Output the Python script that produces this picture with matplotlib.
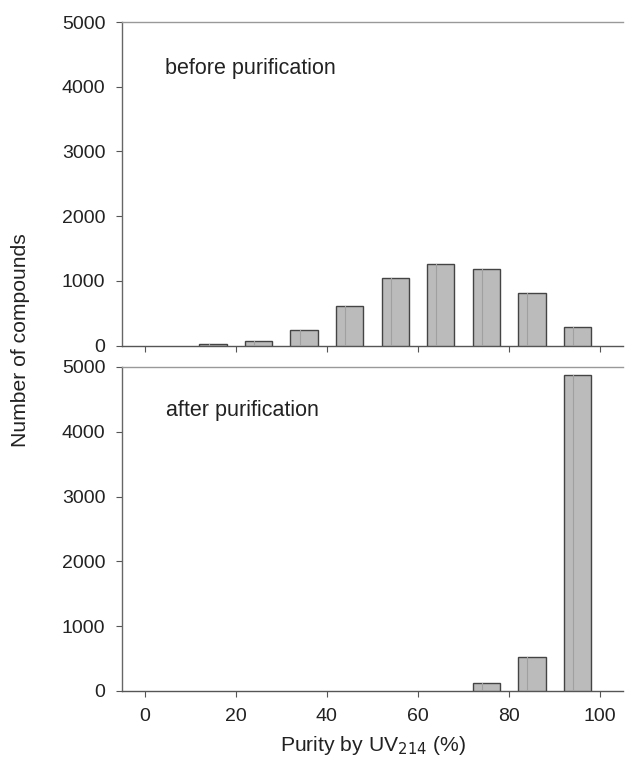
#!/usr/bin/env python3

import matplotlib
matplotlib.use("Agg")
import matplotlib.pyplot as plt


# histogram bins (bin centres, % purity) and counts
bin_centres = [5, 15, 25, 35, 45, 55, 65, 75, 85, 95]
before_counts = [0, 26, 67, 242, 618, 1050, 1256, 1190, 814, 283]
after_counts = [0, 0, 0, 0, 0, 0, 0, 123, 530, 4882]

x_ticks = [0, 20, 40, 60, 80, 100]
y_ticks = [0, 1000, 2000, 3000, 4000, 5000]


def style_axes(ax, show_xlabels):
    ax.set_xlim(-5, 105)
    ax.set_ylim(0, 5000)
    ax.set_xticks(x_ticks)
    ax.set_yticks(y_ticks)
    ax.spines['right'].set_visible(False)
    ax.spines['top'].set_color('#999999')
    ax.spines['left'].set_color('#666666')
    ax.spines['bottom'].set_color('#555555')
    for s in ax.spines.values():
        s.set_linewidth(1.0)
    ax.tick_params(direction='out', length=4, width=0.8, color='#555555',
                   labelsize=14, labelcolor='#222222', pad=8)
    if not show_xlabels:
        ax.tick_params(axis='x', labelbottom=False)


def draw_bars(ax, counts):
    # empty bins are not drawn in the original
    xs = [x for x, c in zip(bin_centres, counts) if c > 0]
    cs = [c for c in counts if c > 0]
    ax.bar(xs, cs, width=6, color='#bbbbbb',
           edgecolor='#444444', linewidth=1.0, zorder=3)
    # faint inner line seen inside each bar
    for xc, c in zip(xs, cs):
        ax.plot([xc - 1, xc - 1], [0, c], color='#a0a0a0', lw=0.8, zorder=4)


def main():
    plt.rcParams['font.family'] = ['Liberation Sans', 'DejaVu Sans']
    fig = plt.figure(figsize=(6.34, 7.59), dpi=100)

    ax1 = fig.add_axes([0.1924, 0.5445, 0.7902, 0.4265])
    ax2 = fig.add_axes([0.1924, 0.0896, 0.7902, 0.4269])

    draw_bars(ax1, before_counts)
    draw_bars(ax2, after_counts)
    style_axes(ax1, False)
    style_axes(ax2, True)

    ax1.text(4.4, 4277, 'before purification', fontsize=15.5, va='center',
             ha='left', color='#222222')
    ax2.text(4.6, 4336, 'after purification', fontsize=15.5, va='center',
             ha='left', color='#222222')

    fig.text(0.032, 0.552, 'Number of compounds', rotation=90, fontsize=15.2,
             ha='center', va='center', color='#222222')
    ax2.set_xlabel('Purity by UV$_{214}$ (%)', fontsize=15.2, color='#222222',
                   labelpad=7)

    fig.savefig('out.png', dpi=100)


if __name__ == '__main__':
    main()
